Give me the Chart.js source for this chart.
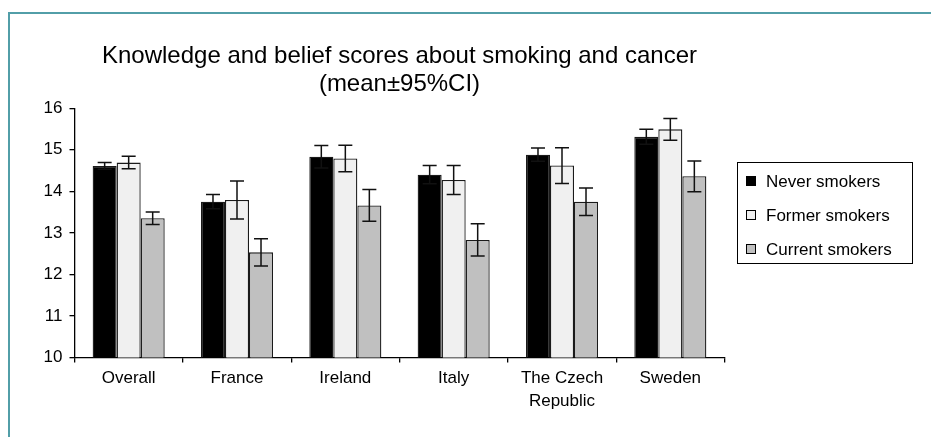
<!DOCTYPE html>
<html>
<head>
<meta charset="utf-8">
<script src="https://cdn.jsdelivr.net/npm/chart.js@4/dist/chart.umd.min.js"></script>
<style>
  html, body { margin: 0; padding: 0; background: #fff; }
  #wrap { position: relative; width: 931px; height: 437px; }
  #frame { position: absolute; left: 8px; top: 12px; right: 0; bottom: 0;
           border-left: 2px solid #529ea8; border-top: 2px solid #529ea8; }
  canvas { position: absolute; left: 0; top: 0; }
</style>
</head>
<body>
<div id="wrap">
  <div id="frame"></div>
  <canvas id="chart" width="931" height="437"></canvas>
</div>
<script>
// Mean knowledge/belief scores with 95% CI half-widths
const categories = ['Overall', 'France', 'Ireland', 'Italy', ['The Czech', 'Republic'], 'Sweden'];
const seriesNames = ['Never smokers', 'Former smokers', 'Current smokers'];
const neverMeans   = [14.61, 13.75, 14.83, 14.40, 14.88, 15.31];
const neverCI      = [0.08, 0.17, 0.27, 0.22, 0.16, 0.18];
const formerMeans  = [14.69, 13.79, 14.79, 14.27, 14.62, 15.49];
const formerCI     = [0.15, 0.46, 0.32, 0.35, 0.43, 0.26];
const currentMeans = [13.35, 12.53, 13.66, 12.83, 13.75, 14.36];
const currentCI    = [0.15, 0.33, 0.38, 0.39, 0.33, 0.37];
const yTicks = [10, 11, 12, 13, 14, 15, 16];
const titleLines = ['Knowledge and belief scores about smoking and cancer', '(mean\u00b195%CI)'];

const FONT = "'Liberation Sans', Arial, sans-serif";
const fills = ['#000000', '#f0f0f0', '#c0c0c0'];

const ciSets = [neverCI, formerCI, currentCI];

// Whiskers drawn on top of each bar from mean ± CI
const errorBars = {
  id: 'errorBars',
  afterDatasetsDraw(chart) {
    const ctx = chart.ctx;
    const y = chart.scales.y;
    ctx.save();
    ctx.strokeStyle = '#111';
    ctx.lineWidth = 1.5;
    chart.data.datasets.forEach((ds, i) => {
      const meta = chart.getDatasetMeta(i);
      meta.data.forEach((bar, j) => {
        const m = ds.data[j], ci = ds.ci[j];
        const yt = y.getPixelForValue(m + ci);
        const yb = y.getPixelForValue(m - ci);
        const x = bar.x, hw = 7;
        ctx.beginPath();
        ctx.moveTo(x, yt); ctx.lineTo(x, yb);
        ctx.moveTo(x - hw, yt); ctx.lineTo(x + hw, yt);
        ctx.moveTo(x - hw, yb); ctx.lineTo(x + hw, yb);
        ctx.stroke();
      });
    });
    ctx.restore();
  }
};

// Boxed legend on the right of the plot
const boxedLegend = {
  id: 'boxedLegend',
  afterDraw(chart) {
    const ctx = chart.ctx;
    const left = 737.5, top = 162.5, w = 175, h = 101;
    ctx.save();
    ctx.strokeStyle = '#000';
    ctx.lineWidth = 1;
    ctx.strokeRect(left, top, w, h);
    ctx.font = '17px ' + FONT;
    ctx.textBaseline = 'middle';
    ctx.fillStyle = '#000';
    chart.data.datasets.forEach((ds, i) => {
      const cy = 181 + i * 34;
      ctx.fillStyle = ds.backgroundColor;
      ctx.fillRect(746, cy - 5, 10, 10);
      ctx.strokeStyle = '#000';
      ctx.strokeRect(746.5, cy - 4.5, 9, 9);
      ctx.fillStyle = '#000';
      ctx.fillText(ds.label, 766, cy + 1);
    });
    ctx.restore();
  }
};

new Chart(document.getElementById('chart'), {
  type: 'bar',
  data: {
    labels: categories,
    datasets: [
      { label: seriesNames[0], data: neverMeans,   ci: neverCI,   backgroundColor: fills[0] },
      { label: seriesNames[1], data: formerMeans,  ci: formerCI,  backgroundColor: fills[1] },
      { label: seriesNames[2], data: currentMeans, ci: currentCI, backgroundColor: fills[2] }
    ].map(d => Object.assign(d, {
      borderColor: '#1a1a1a', borderWidth: 1.3, borderSkipped: false,
      barPercentage: 1.0, categoryPercentage: 0.665
    }))
  },
  options: {
    responsive: false,
    animation: false,
    devicePixelRatio: 1,
    layout: { padding: { left: 0, right: 206.5, top: 0, bottom: 0 } },
    plugins: {
      legend: { display: false },
      tooltip: { enabled: false },
      title: {
        display: true,
        fullSize: false,
        text: titleLines,
        color: '#000',
        font: { family: FONT, size: 24, weight: 'normal', lineHeight: 1.17 },
        padding: { top: 42, bottom: 10 }
      }
    },
    scales: {
      x: {
        grid: { display: true, drawOnChartArea: false, drawTicks: true, tickLength: 5, color: '#000', lineWidth: 1.3, offset: true },
        border: { display: true, color: '#000', width: 1.3 },
        ticks: { color: '#000', font: { family: FONT, size: 17, lineHeight: 1.35 }, padding: 4, maxRotation: 0, autoSkip: false },
        afterFit(s) { s.height = 79.5; }
      },
      y: {
        min: 10, max: 16,
        afterBuildTicks(s) { s.ticks = yTicks.map(v => ({ value: v })); },
        grid: { display: true, drawOnChartArea: false, drawTicks: true, tickLength: 5, color: '#000', lineWidth: 1.3 },
        border: { display: true, color: '#000', width: 1.3 },
        ticks: { color: '#000', font: { family: FONT, size: 17 }, padding: 7 },
        afterFit(s) { s.width = 74.5; }
      }
    }
  },
  plugins: [errorBars, boxedLegend]
});
</script>
</body>
</html>
